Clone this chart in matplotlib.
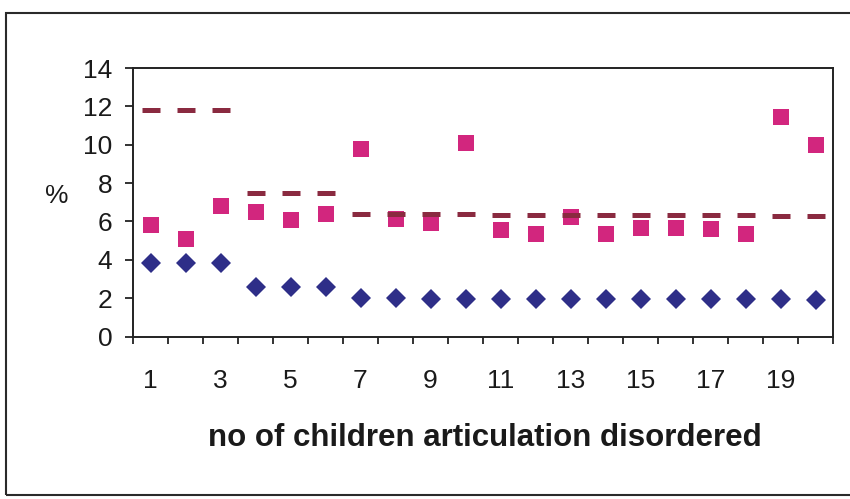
import matplotlib
matplotlib.use("Agg")
import matplotlib.pyplot as plt
from matplotlib.patches import Rectangle
import numpy as np

plt.rcParams['font.family'] = ['Liberation Sans', 'DejaVu Sans']

# number of articulation-disordered children (category axis)
children = list(range(1, 21))

# observed percentage (squares)
observed = [5.82, 5.09, 6.81, 6.52, 6.08, 6.38, 9.80, 6.12, 5.92, 10.10,
            5.56, 5.37, 6.21, 5.35, 5.67, 5.65, 5.63, 5.34, 11.44, 10.00]

# upper limit (dashes)
upper = [11.80, 11.80, 11.80, 7.50, 7.50, 7.50, 6.40, 6.40, 6.37, 6.37,
         6.36, 6.35, 6.36, 6.35, 6.35, 6.34, 6.33, 6.32, 6.31, 6.31]

# lower value (diamonds)
lower = [3.85, 3.85, 3.85, 2.59, 2.59, 2.59, 1.99, 1.99, 1.98, 1.98,
         1.98, 1.97, 1.98, 1.97, 1.97, 1.96, 1.96, 1.95, 1.94, 1.93]

y_ticks = [0, 2, 4, 6, 8, 10, 12, 14]
x_tick_labels = [str(v) for v in children[::2]]

W, H = 850, 499
fig = plt.figure(figsize=(W / 100, H / 100), dpi=100)
fig.patch.set_facecolor('white')

# outer frame around the whole chart
frame = Rectangle((6 / W, 1 - 495 / H), 1.2, (495 - 13) / H,
                  transform=fig.transFigure, fill=False,
                  edgecolor='#2a2a2a', linewidth=1.5, zorder=0)
fig.patches.append(frame)

left, right, top, bottom = 133, 833, 68, 336.6
ax = fig.add_axes([left / W, 1 - bottom / H, (right - left) / W, (bottom - top) / H])

x = np.array(children)
ax.plot(x, lower, linestyle='none', marker='D', markersize=10.2,
        color='#2e2e88', markeredgewidth=0, zorder=3)
ax.plot(x, observed, linestyle='none', marker='s', markersize=12.2,
        color='#d2267e', markeredgewidth=0, zorder=3)
ax.plot(x, upper, linestyle='none', marker='_', markersize=13.2,
        color='#8a2a40', markeredgewidth=3.6, zorder=4)

ax.set_xlim(0.5, 20.5)
ax.set_ylim(0, 14)

for s in ax.spines.values():
    s.set_color('#222222')
    s.set_linewidth(1.4)

ax.set_yticks(y_ticks)
ax.set_yticklabels([str(v) for v in y_ticks])
ax.tick_params(axis='y', which='major', direction='out', length=5.8,
               width=1.3, color='#222222', labelsize=19, pad=9,
               labelcolor='#1a1a1a')

# ticks between categories, labels on every other category
ax.set_xticks(np.arange(0.5, 21.0, 1.0))
ax.set_xticklabels([])
ax.set_xticks(children[::2], minor=True)
ax.set_xticklabels(x_tick_labels, minor=True)
ax.tick_params(axis='x', which='major', direction='out', length=5,
               width=1.3, color='#222222')
ax.tick_params(axis='x', which='minor', length=0, labelsize=19, pad=23,
               labelcolor='#1a1a1a')

fig.text(57 / W, 1 - 196 / H, '%', ha='center', va='center',
         fontsize=19, color='#1a1a1a')
fig.text(485 / W, 1 - 438 / H, 'no of children articulation disordered',
         ha='center', va='center', fontsize=22.5, fontweight='bold',
         color='#1a1a1a')

fig.savefig('out.png', dpi=100, facecolor='white')
